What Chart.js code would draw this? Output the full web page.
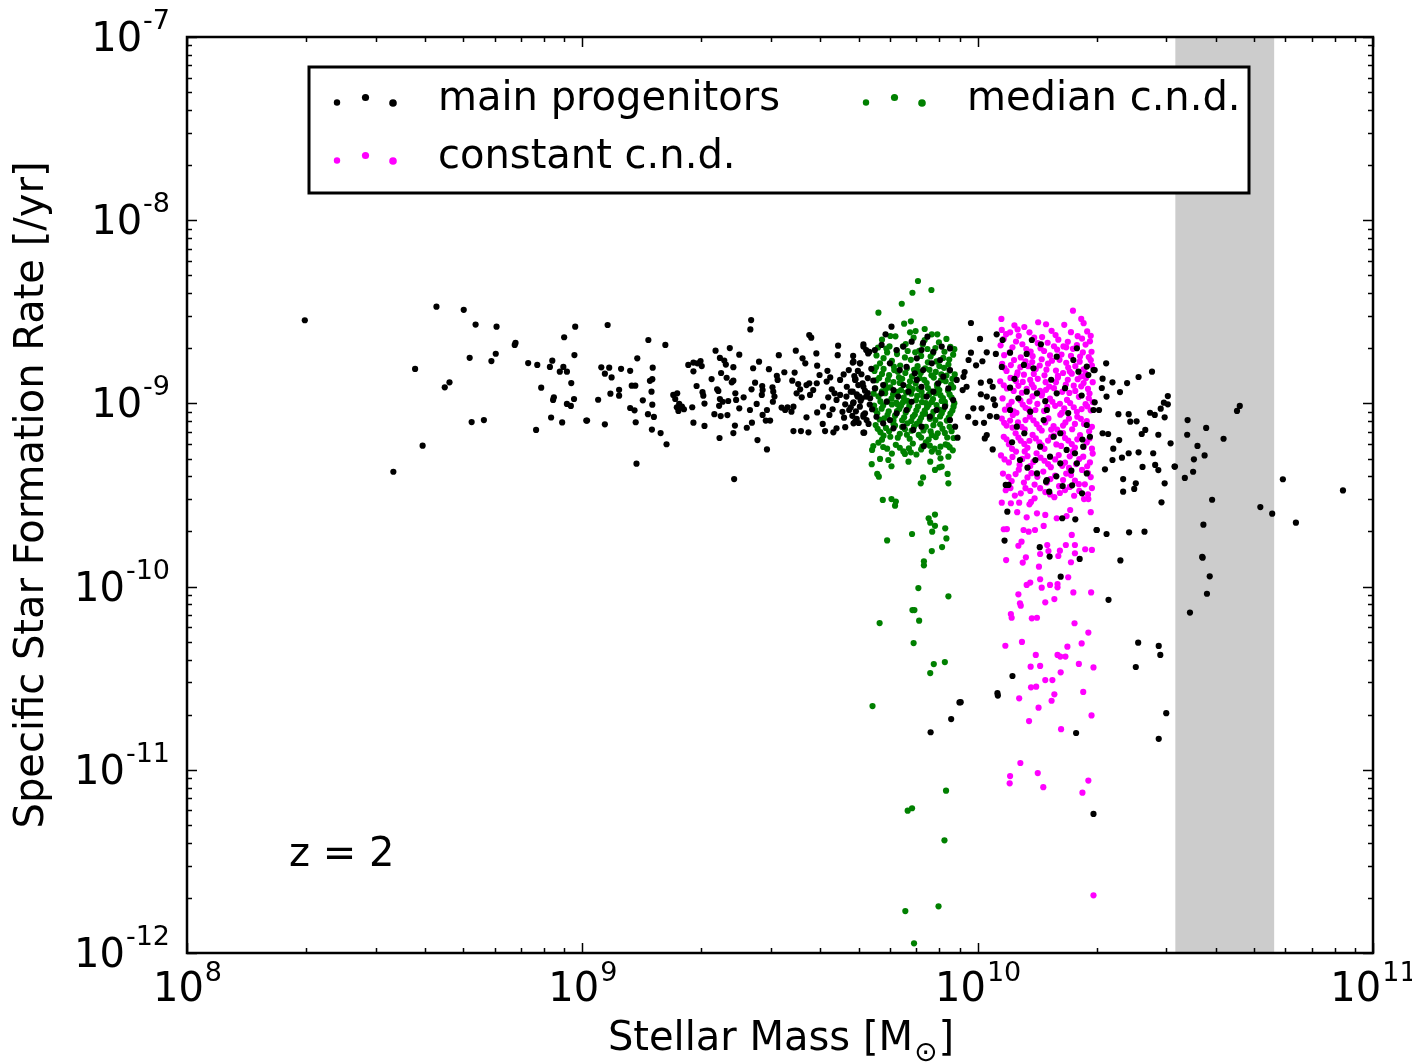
<!DOCTYPE html>
<html>
<head>
<meta charset="utf-8">
<script src="https://cdn.jsdelivr.net/npm/chart.js@4"></script>
<style>
  html, body { margin: 0; padding: 0; background: #fff; }
  canvas { display: block; }
</style>
</head>
<body>
<canvas id="chart" width="1412" height="1064"></canvas>
<script>
// axis decades (log10)
const xTickExps = [8, 9, 10, 11];
const yTickExps = [-12, -11, -10, -9, -8, -7];
// shaded mass range, log10(M)
const bandLogMass = [10.5, 10.75];

const seriesNames = ["main progenitors", "median c.n.d.", "constant c.n.d."];
const seriesColors = ["#000000", "#008000", "#ff00ff"];

// points as [log10 M, log10 sSFR]
const mainLog = [
  [8.298,-8.546],[8.631,-8.472],[8.700,-8.489],[8.730,-8.570],[8.783,-8.581],[8.577,-8.812],[8.652,-8.912],[8.664,-8.885],
  [8.715,-8.751],[8.770,-8.769],[8.781,-8.729],[8.829,-8.681],[8.831,-8.670],[8.863,-8.780],[8.886,-8.790],[8.918,-8.801],
  [8.924,-8.767],[8.954,-8.639],[8.982,-8.581],[8.980,-8.736],[8.943,-8.827],[8.952,-8.801],[8.961,-8.827],[8.972,-8.889],
  [8.896,-8.914],[8.928,-8.967],[8.926,-8.981],[8.979,-8.976],[8.961,-9.003],[8.971,-9.014],[8.720,-9.102],[8.751,-9.091],
  [8.921,-9.077],[8.949,-9.104],[8.883,-9.145],[9.010,-9.094],[8.596,-9.231],[8.522,-9.373],
  [9.064,-8.572],[9.167,-8.654],[9.210,-8.681],[9.427,-8.545],[9.425,-8.596],[9.574,-8.627],[9.579,-8.641],
  [9.048,-8.803],[9.068,-8.805],[9.098,-8.811],[9.121,-8.822],[9.178,-8.805],[9.057,-8.838],[9.074,-8.858],[9.139,-8.754],
  [9.125,-8.903],[9.134,-8.903],[9.171,-8.877],[9.177,-8.868],[9.093,-8.926],[9.093,-8.958],[9.071,-8.947],[9.040,-8.980],
  [9.175,-8.936],[9.153,-8.983],[9.177,-9.007],[9.121,-9.025],[9.132,-9.038],[9.166,-9.059],[9.181,-9.074],[9.012,-9.094],
  [9.057,-9.114],[9.135,-9.103],[9.176,-9.143],[9.198,-9.162],[9.213,-9.223],[9.137,-9.329],
  [9.268,-8.790],[9.281,-8.777],[9.291,-8.781],[9.299,-8.769],[9.302,-8.796],[9.281,-8.825],[9.337,-8.712],[9.373,-8.698],
  [9.397,-8.734],[9.348,-8.752],[9.359,-8.766],[9.363,-8.788],[9.382,-8.802],[9.327,-8.867],[9.351,-8.834],[9.365,-8.860],
  [9.378,-8.885],[9.382,-8.876],[9.289,-8.905],[9.304,-8.939],[9.306,-8.958],[9.230,-8.954],[9.240,-8.945],[9.235,-8.976],
  [9.239,-9.021],[9.245,-9.003],[9.252,-9.018],[9.243,-9.041],[9.257,-9.032],[9.278,-9.021],[9.309,-9.001],[9.341,-8.923],
  [9.344,-8.932],[9.348,-8.976],[9.355,-8.991],[9.369,-8.987],[9.387,-8.945],[9.389,-8.981],[9.397,-9.027],[9.346,-9.013],
  [9.367,-9.064],[9.350,-9.069],[9.334,-9.059],[9.281,-9.105],[9.309,-9.123],[9.386,-9.121],[9.382,-9.162],[9.347,-9.189],
  [9.408,-8.967],[9.428,-8.923],[9.437,-8.887],[9.455,-8.905],[9.441,-9.003],[9.432,-8.808],[9.447,-8.772],[9.472,-8.813],
  [9.497,-8.737],[9.456,-8.927],[9.454,-8.954],[9.481,-8.912],[9.483,-8.936],[9.486,-8.963],[9.482,-8.991],[9.424,-9.036],
  [9.467,-9.036],[9.456,-9.063],[9.464,-9.094],[9.475,-9.094],[9.416,-9.133],[9.429,-9.105],[9.443,-9.200],[9.467,-9.251],
  [9.384,-9.413],
  [9.511,-8.830],[9.492,-8.849],[9.494,-8.872],[9.531,-8.876],[9.537,-8.832],[9.540,-8.712],[9.557,-8.754],[9.564,-8.781],
  [9.592,-8.727],[9.594,-8.794],[9.504,-9.023],[9.513,-9.036],[9.519,-9.021],[9.529,-9.045],[9.534,-9.018],
  [9.546,-8.894],[9.551,-8.923],[9.542,-8.945],[9.555,-8.967],[9.567,-8.900],[9.574,-8.890],[9.584,-8.927],[9.576,-8.954],
  [9.593,-8.890],[9.600,-8.845],[9.620,-8.822],[9.627,-8.858],[9.618,-8.881],[9.631,-8.923],[9.638,-8.945],[9.622,-8.967],
  [9.643,-8.981],[9.652,-8.954],
  [9.647,-8.685],[9.646,-8.737],[9.685,-8.741],[9.711,-8.677],[9.718,-8.709],[9.726,-8.718],[9.684,-8.777],[9.703,-8.781],
  [9.669,-8.909],[9.691,-8.868],[9.709,-8.890],[9.679,-8.936],[9.694,-8.950],[9.715,-8.931],[9.665,-9.005],[9.686,-8.994],
  [9.701,-8.963],[9.718,-8.963],
  [9.534,-9.151],[9.553,-9.151],[9.572,-9.158],[9.608,-9.112],[9.614,-9.151],[9.635,-9.158],[9.643,-9.136],[9.665,-9.130],
  [9.686,-9.109],[9.711,-9.063],[9.713,-9.160],
  [9.567,-9.076],[9.594,-9.049],[9.609,-9.018],[9.633,-9.032],[9.625,-9.063],[9.662,-9.078],[9.675,-9.036],[9.694,-9.085],
  [9.719,-9.091],
  [9.652,-8.872],[9.661,-8.842],[9.674,-8.818],[9.688,-8.851],[9.697,-8.823],[9.706,-8.841],[9.722,-8.862],[9.731,-8.811],
  [9.668,-8.963],[9.679,-9.021],[9.692,-9.043],[9.704,-8.986],[9.727,-9.006],[9.733,-9.032],[9.658,-9.046],[9.683,-9.068],
  [9.699,-9.107],[9.724,-9.112],[9.722,-8.944],[9.736,-8.875],
  [9.782,-8.581],[9.767,-8.623],[9.873,-8.636],[9.862,-8.669],[9.711,-9.160],[9.864,-9.233],[9.949,-9.187],
  [9.686,-8.772],[9.702,-8.781],[9.690,-8.872],[9.698,-8.900],[9.711,-8.909],[9.684,-8.936],[9.696,-8.963],[9.707,-8.972],
  [9.685,-8.999],[9.702,-9.018],[9.715,-9.054],[9.690,-9.100],[9.711,-9.073],[9.728,-8.972],[9.740,-8.918],[9.761,-8.900],
  [9.757,-8.945],[9.770,-8.991],[9.787,-8.927],[9.799,-8.963],[9.812,-8.900],[9.825,-8.936],[9.833,-8.991],[9.820,-9.036],
  [9.795,-9.054],[9.778,-9.091],[9.846,-8.872],[9.858,-8.909],[9.871,-8.963],[9.888,-8.936],[9.900,-8.891],[9.913,-8.854],
  [9.930,-8.818],[9.926,-8.918],[9.938,-8.982],[9.917,-9.018],[9.896,-9.036],[9.879,-9.073],[9.858,-9.127],[9.837,-9.145],
  [9.812,-9.127],[9.787,-9.136],[9.761,-9.109],[9.744,-9.073],[9.930,-9.091],[9.943,-9.127],[9.947,-8.872],[9.711,-8.690],
  [9.723,-8.727],[9.740,-8.709],[9.757,-8.681],[9.795,-8.709],[9.812,-8.690],[9.833,-8.663],[9.858,-8.709],[9.888,-8.718],
  [9.909,-8.690],[9.930,-8.700],[9.905,-8.763],[9.884,-8.781],[9.862,-8.818],[9.841,-8.836],[9.820,-8.800],[9.803,-8.818],
  [9.778,-8.781],[9.846,-8.754],
  [9.933,-10.723],[9.881,-10.795],[9.954,-10.632],
  [9.983,-8.561],[10.006,-8.648],[10.048,-8.623],[10.063,-8.654],
  [9.983,-8.723],[10.023,-8.721],[10.046,-8.730],[9.977,-8.763],[10.012,-8.770],[9.996,-8.792],[9.967,-8.829],[9.964,-8.855],
  [9.972,-8.909],[9.962,-8.927],[10.008,-8.887],[10.031,-8.879],[10.038,-8.909],[10.008,-8.950],[10.023,-8.963],[10.040,-8.978],
  [10.044,-9.009],[9.989,-9.027],[10.010,-9.027],[9.976,-9.073],[10.031,-9.069],[10.048,-9.073],[9.994,-9.106],[10.016,-9.106],
  [10.023,-9.173],[10.018,-9.191],[10.038,-9.251],
  [10.082,-8.723],[10.117,-8.790],[10.137,-8.654],[10.160,-8.677],[10.124,-8.730],[10.200,-8.745],[10.251,-8.699],[10.276,-8.799],
  [10.293,-8.818],[10.242,-8.763],[10.255,-8.827],[10.280,-8.845],[10.082,-8.914],[10.103,-8.972],[10.124,-8.936],[10.150,-8.945],
  [10.175,-9.036],[10.200,-8.945],[10.082,-9.036],[10.099,-9.127],[10.133,-9.045],[10.167,-9.091],[10.192,-9.182],[10.209,-9.163],
  [10.225,-9.254],[10.246,-9.272],[10.267,-9.236],[10.284,-9.182],[10.158,-9.236],[10.183,-9.291],[10.209,-9.327],[10.251,-9.327],
  [10.276,-9.382],[10.150,-9.382],[10.175,-9.418],[10.078,-9.445],[10.107,-9.309],[10.276,-9.118],[10.293,-9.036],
  [10.061,-8.801],[10.093,-8.866],[10.141,-8.808],[10.186,-8.871],[10.221,-8.917],[10.263,-8.957],[10.118,-9.163],[10.146,-9.309],
  [10.237,-9.367],[10.199,-9.398],[10.265,-9.197],[10.087,-9.212],[10.126,-9.351],[10.229,-9.053],[10.171,-8.988],
  [10.071,-9.445],[10.173,-9.427],[10.181,-9.482],[10.215,-9.451],[10.239,-9.447],[10.264,-9.491],[10.075,-9.591],[10.214,-9.627],
  [10.247,-9.633],[10.301,-9.691],[10.068,-9.749],[10.157,-9.785],[10.182,-9.836],[10.258,-9.849],[10.210,-9.946],[10.088,-10.488],
  [10.050,-10.582],[10.051,-10.595],[9.957,-10.631],[10.249,-10.799],[10.293,-11.241],
  [10.325,-8.781],[10.296,-8.818],[10.316,-8.865],[10.341,-8.885],[10.378,-8.889],[10.407,-8.856],[10.441,-8.827],[10.314,-8.916],
  [10.360,-8.938],[10.326,-8.963],[10.481,-8.960],[10.471,-8.996],[10.481,-9.005],[10.463,-9.029],[10.296,-8.994],[10.307,-9.036],
  [10.356,-9.059],[10.382,-9.059],[10.436,-9.051],[10.448,-9.063],[10.473,-9.076],[10.386,-9.100],[10.402,-9.098],[10.316,-9.163],
  [10.330,-9.167],[10.415,-9.167],[10.424,-9.145],[10.457,-9.171],[10.358,-9.200],[10.488,-9.218],[10.343,-9.247],[10.341,-9.309],
  [10.365,-9.296],[10.382,-9.272],[10.407,-9.267],[10.444,-9.272],[10.322,-9.360],[10.417,-9.347],[10.449,-9.336],[10.457,-9.364],
  [10.498,-9.345],[10.368,-9.413],[10.400,-9.436],[10.396,-9.467],[10.368,-9.482],[10.473,-9.436],[10.465,-9.540],[10.301,-9.691],
  [10.326,-9.713],[10.383,-9.704],[10.422,-9.700],
  [10.531,-9.091],[10.578,-9.134],[10.530,-9.171],[10.622,-9.193],[10.556,-9.232],[10.547,-9.305],[10.574,-9.284],[10.499,-9.345],
  [10.545,-9.373],[10.524,-9.407],[10.593,-9.526],[10.571,-9.662],[10.569,-9.842],[10.656,-9.041],[10.663,-9.014],[10.715,-9.566],
  [10.745,-9.602],[10.772,-9.414],[10.805,-9.651],[10.924,-9.475],
  [10.361,-9.857],[10.331,-10.072],[10.406,-10.306],[10.458,-10.324],[10.462,-10.373],[10.400,-10.439],[10.477,-10.691],[10.458,-10.831],
  [10.568,-9.838],[10.587,-9.944],[10.580,-10.039],[10.537,-10.142]
];

const medianLog = [
  [9.849,-8.332],[9.835,-8.396],[9.883,-8.381],[9.808,-8.456],[9.749,-8.505],[9.814,-8.565],[9.831,-8.552],[9.843,-8.605],
  [9.866,-8.594],[9.898,-8.623],[9.779,-8.632],
  [9.758,-8.652],[9.792,-8.634],[9.811,-8.688],[9.838,-8.641],[9.861,-8.679],[9.884,-8.623],[9.902,-8.667],[9.921,-8.648],
  [9.769,-8.701],[9.829,-8.612],[9.873,-8.703],[9.931,-8.692],
  [9.748,-8.695],[9.762,-8.753],[9.777,-8.689],[9.795,-8.712],[9.818,-8.676],[9.842,-8.721],[9.866,-8.654],[9.881,-8.744],
  [9.893,-8.698],[9.916,-8.718],[9.928,-8.761],[9.941,-8.704],
  [9.744,-8.738],[9.753,-8.781],[9.771,-8.722],[9.783,-8.768],[9.796,-8.731],[9.804,-8.793],[9.823,-8.714],[9.831,-8.762],
  [9.848,-8.797],[9.857,-8.741],[9.874,-8.776],[9.887,-8.725],[9.896,-8.771],[9.913,-8.752],[9.926,-8.788],[9.938,-8.734],
  [9.788,-8.799],[9.852,-8.713],[9.903,-8.796],[9.816,-8.749],
  [9.743,-8.803],[9.758,-8.839],[9.773,-8.871],[9.789,-8.818],[9.803,-8.888],[9.817,-8.834],[9.829,-8.879],[9.839,-8.817],
  [9.853,-8.862],[9.867,-8.808],[9.883,-8.847],[9.894,-8.828],[9.907,-8.874],[9.921,-8.848],[9.933,-8.897],[9.942,-8.842],
  [9.739,-8.823],[9.751,-8.861],[9.762,-8.812],[9.776,-8.846],[9.787,-8.884],[9.798,-8.827],[9.809,-8.866],[9.821,-8.808],
  [9.834,-8.853],[9.843,-8.891],[9.856,-8.834],[9.865,-8.872],[9.878,-8.817],[9.889,-8.859],[9.897,-8.898],[9.908,-8.841],
  [9.919,-8.879],[9.929,-8.821],[9.936,-8.866],[9.766,-8.897],[9.801,-8.858],[9.848,-8.824],[9.871,-8.889],[9.915,-8.806],
  [9.744,-8.873],
  [9.737,-8.947],[9.754,-8.989],[9.768,-8.921],[9.782,-8.974],[9.797,-8.937],[9.811,-8.994],[9.819,-8.941],[9.836,-8.922],
  [9.847,-8.959],[9.859,-8.993],[9.874,-8.916],[9.884,-8.992],[9.893,-8.944],[9.903,-8.927],[9.912,-8.971],[9.929,-8.951],
  [9.938,-8.913],
  [9.741,-8.918],[9.749,-8.962],[9.758,-8.934],[9.771,-8.989],[9.779,-8.913],[9.786,-8.951],[9.794,-8.996],[9.806,-8.927],
  [9.813,-8.969],[9.826,-8.908],[9.832,-8.947],[9.844,-8.983],[9.851,-8.921],[9.862,-8.962],[9.869,-8.998],[9.881,-8.934],
  [9.887,-8.976],[9.898,-8.912],[9.906,-8.955],[9.917,-8.991],[9.925,-8.929],[9.934,-8.968],[9.941,-8.999],[9.766,-8.944],
  [9.822,-8.986],[9.877,-8.951],[9.909,-8.987],[9.858,-8.937],
  [9.741,-9.036],[9.752,-9.088],[9.761,-9.011],[9.772,-9.062],[9.787,-9.094],[9.796,-9.042],[9.806,-9.013],[9.814,-9.076],
  [9.823,-9.033],[9.832,-9.096],[9.841,-9.061],[9.849,-9.017],[9.857,-9.079],[9.867,-9.056],[9.876,-9.008],[9.884,-9.068],
  [9.893,-9.091],[9.901,-9.032],[9.909,-9.054],[9.918,-9.011],[9.927,-9.077],[9.936,-9.039],
  [9.738,-9.012],[9.746,-9.054],[9.757,-9.029],[9.764,-9.081],[9.775,-9.043],[9.783,-9.006],[9.791,-9.067],[9.802,-9.031],
  [9.809,-9.092],[9.818,-9.049],[9.827,-9.014],[9.836,-9.073],[9.845,-9.038],[9.853,-9.097],[9.861,-9.058],[9.872,-9.021],
  [9.879,-9.084],[9.888,-9.046],[9.896,-9.009],[9.905,-9.071],[9.913,-9.035],[9.922,-9.094],[9.931,-9.056],[9.939,-9.018],
  [9.797,-9.005],[9.866,-9.039],
  [9.747,-9.139],[9.762,-9.176],[9.776,-9.152],[9.787,-9.112],[9.798,-9.187],[9.809,-9.129],[9.821,-9.171],[9.833,-9.149],
  [9.846,-9.111],[9.857,-9.186],[9.869,-9.128],[9.881,-9.152],[9.894,-9.184],[9.905,-9.114],[9.917,-9.161],[9.929,-9.128],
  [9.939,-9.189],
  [9.742,-9.118],[9.754,-9.157],[9.768,-9.134],[9.779,-9.182],[9.791,-9.121],[9.803,-9.166],[9.816,-9.141],[9.828,-9.193],
  [9.839,-9.127],[9.851,-9.172],[9.863,-9.148],[9.876,-9.197],[9.888,-9.119],[9.899,-9.163],[9.911,-9.138],[9.923,-9.186],
  [9.934,-9.152],[9.758,-9.198],[9.884,-9.173],[9.822,-9.109],
  [9.761,-9.238],[9.803,-9.242],[9.826,-9.246],[9.869,-9.212],[9.891,-9.247],[9.929,-9.239],
  [9.749,-9.214],[9.771,-9.247],[9.793,-9.226],[9.812,-9.262],[9.836,-9.219],[9.857,-9.251],[9.879,-9.231],[9.901,-9.268],
  [9.919,-9.224],[9.937,-9.256],[9.845,-9.279],[9.783,-9.274],
  [9.736,-9.233],[9.733,-9.254],[9.732,-9.332],[9.753,-9.303],[9.774,-9.309],[9.782,-9.343],[9.746,-9.385],[9.750,-9.400],
  [9.816,-9.276],[9.831,-9.267],[9.825,-9.318],[9.860,-9.236],[9.884,-9.263],[9.906,-9.236],[9.924,-9.227],[9.880,-9.318],
  [9.906,-9.300],[9.892,-9.363],[9.903,-9.349],[9.909,-9.345],[9.926,-9.291],[9.924,-9.385],[9.926,-9.436],[9.862,-9.404],
  [9.856,-9.436],[9.760,-9.527],[9.782,-9.522],[9.793,-9.536],[9.791,-9.558],
  [9.876,-9.627],[9.892,-9.607],[9.880,-9.651],[9.892,-9.668],[9.918,-9.682],[9.885,-9.700],[9.834,-9.713],[9.771,-9.748],
  [9.921,-9.737],[9.910,-9.784],[9.884,-9.806],[9.864,-9.862],[9.864,-9.884],[9.850,-10.008],[9.926,-10.053],[9.835,-10.128],
  [9.840,-10.128],[9.852,-10.186],[9.752,-10.199],[9.838,-10.308],[9.889,-10.423],[9.917,-10.412],[9.880,-10.472],[9.734,-10.652],
  [9.920,-11.114],[9.823,-11.223],[9.834,-11.210],[9.916,-11.385],[9.817,-11.771],[9.901,-11.745],[9.839,-11.947]
];

const constantLog = [
  [10.241,-8.494],[10.262,-8.539],[10.060,-8.539],[10.153,-8.557],[10.173,-8.568],[10.061,-8.599],[10.082,-8.612],[10.101,-8.596],
  [10.072,-8.622],[10.118,-8.583],[10.187,-8.604],[10.219,-8.571],[10.253,-8.633],[10.277,-8.607],[10.143,-8.641],[10.093,-8.574],
  [10.204,-8.652],[10.268,-8.562],
  [10.066,-8.648],[10.104,-8.631],[10.131,-8.612],[10.163,-8.638],[10.197,-8.627],[10.236,-8.611],[10.264,-8.646],[10.286,-8.631],
  [10.058,-8.683],[10.081,-8.721],[10.097,-8.662],[10.123,-8.703],[10.139,-8.742],[10.152,-8.671],[10.168,-8.714],[10.193,-8.688],
  [10.212,-8.733],[10.228,-8.664],[10.241,-8.702],[10.259,-8.744],[10.273,-8.679],[10.288,-8.718],[10.109,-8.749],[10.183,-8.738],
  [10.224,-8.694],[10.284,-8.661],
  [10.067,-8.737],[10.088,-8.694],[10.113,-8.677],[10.134,-8.717],[10.159,-8.699],[10.177,-8.669],[10.201,-8.707],[10.217,-8.689],
  [10.236,-8.741],[10.251,-8.682],[10.266,-8.722],[10.281,-8.747],
  [10.062,-8.784],[10.073,-8.823],[10.092,-8.763],[10.108,-8.802],[10.117,-8.843],[10.138,-8.774],[10.147,-8.812],[10.169,-8.847],
  [10.178,-8.783],[10.198,-8.821],[10.207,-8.762],[10.229,-8.804],[10.238,-8.838],[10.258,-8.772],[10.268,-8.814],[10.289,-8.793],
  [10.101,-8.831],[10.162,-8.759],[10.203,-8.849],[10.233,-8.826],[10.262,-8.852],[10.128,-8.797],
  [10.068,-8.807],[10.084,-8.791],[10.099,-8.847],[10.121,-8.771],[10.142,-8.839],[10.157,-8.793],[10.174,-8.816],[10.188,-8.767],
  [10.216,-8.834],[10.224,-8.778],[10.247,-8.797],[10.273,-8.838],[10.286,-8.764],
  [10.057,-8.879],[10.074,-8.918],[10.083,-8.861],[10.103,-8.904],[10.112,-8.942],[10.133,-8.872],[10.142,-8.913],[10.163,-8.948],
  [10.172,-8.884],[10.193,-8.917],[10.203,-8.858],[10.223,-8.897],[10.232,-8.943],[10.253,-8.868],[10.262,-8.907],[10.283,-8.946],
  [10.291,-8.884],[10.114,-8.883],[10.173,-8.926],[10.243,-8.903],[10.152,-8.866],[10.274,-8.862],
  [10.066,-8.901],[10.091,-8.932],[10.097,-8.878],[10.124,-8.921],[10.137,-8.896],[10.158,-8.931],[10.181,-8.908],[10.198,-8.884],
  [10.214,-8.937],[10.228,-8.871],[10.247,-8.932],[10.268,-8.889],[10.279,-8.921],
  [10.063,-8.973],[10.079,-9.012],[10.091,-9.043],[10.108,-8.983],[10.121,-9.024],[10.139,-8.962],[10.151,-9.003],[10.168,-9.041],
  [10.183,-8.974],[10.196,-9.013],[10.213,-9.052],[10.226,-8.981],[10.243,-9.021],[10.256,-8.964],[10.273,-9.004],[10.286,-9.038],
  [10.098,-9.051],[10.162,-8.957],[10.208,-9.002],[10.251,-9.046],[10.129,-9.033],[10.281,-8.972],
  [10.069,-9.034],[10.086,-8.991],[10.114,-9.006],[10.131,-8.989],[10.146,-9.036],[10.176,-9.019],[10.189,-8.991],[10.219,-9.027],
  [10.234,-8.998],[10.263,-9.031],[10.277,-9.016],[10.291,-8.993],
  [10.061,-9.083],[10.073,-9.121],[10.089,-9.063],[10.102,-9.103],[10.119,-9.142],[10.132,-9.072],[10.149,-9.113],[10.162,-9.148],
  [10.179,-9.082],[10.192,-9.124],[10.209,-9.062],[10.222,-9.104],[10.239,-9.141],[10.252,-9.073],[10.269,-9.112],[10.282,-9.152],
  [10.121,-9.091],[10.201,-9.143],[10.261,-9.084],[10.088,-9.132],
  [10.067,-9.106],[10.082,-9.094],[10.111,-9.128],[10.141,-9.092],[10.156,-9.134],[10.171,-9.104],[10.186,-9.143],[10.216,-9.121],
  [10.231,-9.083],[10.246,-9.112],[10.276,-9.097],[10.289,-9.128],
  [10.066,-9.182],[10.079,-9.223],[10.096,-9.163],[10.109,-9.204],[10.126,-9.242],[10.139,-9.172],[10.156,-9.212],[10.169,-9.248],
  [10.186,-9.183],[10.199,-9.224],[10.216,-9.162],[10.229,-9.203],[10.246,-9.241],[10.259,-9.173],[10.276,-9.213],[10.289,-9.247],
  [10.131,-9.204],[10.211,-9.232],
  [10.073,-9.196],[10.087,-9.248],[10.103,-9.186],[10.118,-9.221],[10.147,-9.191],[10.162,-9.229],[10.178,-9.203],[10.193,-9.176],
  [10.221,-9.189],[10.238,-9.222],[10.252,-9.196],[10.268,-9.238],[10.283,-9.191],
  [10.059,-9.284],[10.079,-9.322],[10.097,-9.263],[10.113,-9.303],[10.133,-9.342],[10.149,-9.272],[10.169,-9.313],[10.185,-9.348],
  [10.205,-9.282],[10.221,-9.323],[10.241,-9.262],[10.257,-9.304],[10.277,-9.343],[10.291,-9.274],[10.119,-9.262],[10.231,-9.352],
  [10.068,-9.306],[10.088,-9.292],[10.106,-9.336],[10.126,-9.288],[10.141,-9.319],[10.159,-9.296],[10.178,-9.331],[10.196,-9.306],
  [10.214,-9.341],[10.233,-9.289],[10.249,-9.331],[10.267,-9.291],[10.284,-9.322],
  [10.064,-9.383],[10.086,-9.424],[10.104,-9.362],[10.126,-9.404],[10.144,-9.443],[10.166,-9.372],[10.184,-9.413],[10.206,-9.452],
  [10.224,-9.383],[10.246,-9.422],[10.264,-9.363],[10.286,-9.402],[10.151,-9.401],[10.271,-9.442],
  [10.078,-9.401],[10.096,-9.386],[10.117,-9.432],[10.136,-9.381],[10.175,-9.432],[10.196,-9.394],[10.216,-9.418],[10.236,-9.391],
  [10.256,-9.441],[10.279,-9.381],
  [10.071,-9.474],[10.094,-9.503],[10.121,-9.463],[10.144,-9.518],[10.171,-9.484],[10.194,-9.512],[10.221,-9.473],[10.244,-9.504],
  [10.269,-9.522],[10.289,-9.462],
  [10.083,-9.462],[10.109,-9.491],[10.133,-9.478],[10.158,-9.463],[10.183,-9.497],[10.208,-9.489],[10.233,-9.456],[10.257,-9.478],
  [10.279,-9.497],
  [10.061,-9.542],[10.084,-9.545],[10.105,-9.542],[10.131,-9.551],[10.135,-9.538],[10.100,-9.594],[10.124,-9.622],[10.150,-9.600],
  [10.171,-9.609],[10.200,-9.627],[10.225,-9.615],[10.234,-9.582],[10.280,-9.522],[10.286,-9.594],[10.066,-9.687],[10.074,-9.686],
  [10.116,-9.691],[10.129,-9.700],[10.145,-9.691],[10.167,-9.669],[10.103,-9.777],[10.111,-9.755],[10.158,-9.822],[10.176,-9.773],
  [10.179,-9.806],[10.208,-9.804],[10.223,-9.773],[10.238,-9.718],[10.246,-9.773],[10.246,-9.818],[10.272,-9.796],[10.289,-9.800],
  [10.072,-9.855],[10.114,-9.869],[10.122,-9.840],[10.155,-9.891],[10.204,-9.833],[10.236,-9.867],[10.124,-9.991],[10.133,-9.978],
  [10.158,-9.960],[10.162,-10.006],[10.183,-9.991],[10.202,-9.986],[10.202,-10.004],[10.229,-9.949],[10.194,-10.068],[10.171,-10.086],
  [10.242,-10.032],[10.287,-10.032],[10.103,-10.042],[10.107,-10.091],[10.109,-10.104],[10.084,-10.150],[10.086,-10.170],[10.137,-10.173],
  [10.150,-10.170],[10.245,-10.200],[10.280,-10.251],[10.263,-10.310],[10.070,-10.323],[10.112,-10.302],[10.147,-10.373],[10.202,-10.373],
  [10.209,-10.382],[10.222,-10.382],[10.227,-10.328],[10.256,-10.422],[10.293,-10.441],[10.134,-10.437],[10.158,-10.433],[10.210,-10.468],
  [10.135,-10.550],[10.148,-10.546],[10.171,-10.510],[10.189,-10.510],[10.194,-10.588],[10.187,-10.623],[10.267,-10.575],[10.105,-10.610],
  [10.154,-10.661],[10.130,-10.734],[10.211,-10.778],[10.288,-10.703],[10.108,-10.963],[10.082,-11.034],[10.081,-11.074],[10.152,-11.018],
  [10.166,-11.095],[10.280,-11.059],[10.265,-11.125],[10.293,-11.685]
];

const FONT = "'DejaVu Sans', sans-serif";

function toPoints(arr) {
  return arr.map(([m, s]) => ({ x: Math.pow(10, m), y: Math.pow(10, s) }));
}

// gray band + frame, ticks, labels, legend
const decor = {
  id: "decor",
  beforeDatasetsDraw(chart) {
    const { ctx, chartArea: a, scales } = chart;
    const x0 = scales.x.getPixelForValue(Math.pow(10, bandLogMass[0]));
    const x1 = scales.x.getPixelForValue(Math.pow(10, bandLogMass[1]));
    ctx.save();
    ctx.fillStyle = "#cccccc";
    ctx.fillRect(x0, a.top, x1 - x0, a.height);
    ctx.restore();
  },
  afterDraw(chart) {
    const { ctx, chartArea: a, scales } = chart;
    const xs = scales.x, ys = scales.y;
    ctx.save();

    // frame
    ctx.strokeStyle = "#000";
    ctx.lineWidth = 2.5;
    ctx.strokeRect(a.left, a.top, a.right - a.left, a.bottom - a.top);

    // ticks (inward, all sides)
    ctx.lineWidth = 1.5;
    ctx.beginPath();
    xTickExps.forEach((e, i) => {
      for (let k = 1; k <= 9; k++) {
        if (k > 1 && i === xTickExps.length - 1) break;
        const px = Math.round(xs.getPixelForValue(k * Math.pow(10, e))) + 0.5;
        const len = k === 1 ? 10 : 5;
        ctx.moveTo(px, a.bottom); ctx.lineTo(px, a.bottom - len);
        ctx.moveTo(px, a.top); ctx.lineTo(px, a.top + len);
      }
    });
    yTickExps.forEach((e, i) => {
      for (let k = 1; k <= 9; k++) {
        if (k > 1 && i === yTickExps.length - 1) break;
        const py = Math.round(ys.getPixelForValue(k * Math.pow(10, e))) + 0.5;
        const len = k === 1 ? 10 : 5;
        ctx.moveTo(a.left, py); ctx.lineTo(a.left + len, py);
        ctx.moveTo(a.right, py); ctx.lineTo(a.right - len, py);
      }
    });
    ctx.stroke();

    ctx.fillStyle = "#000";
    const bigFont = "40px " + FONT;
    const supFont = "27px " + FONT;

    // x tick labels
    xTickExps.forEach((e) => {
      const px = xs.getPixelForValue(Math.pow(10, e));
      ctx.font = bigFont;
      const wBase = ctx.measureText("10").width;
      ctx.font = supFont;
      const sup = String(e);
      const wSup = ctx.measureText(sup).width;
      const left = px - (wBase + wSup) / 2;
      ctx.textAlign = "left";
      ctx.textBaseline = "alphabetic";
      ctx.font = bigFont;
      ctx.fillText("10", left, a.bottom + 48);
      ctx.font = supFont;
      ctx.fillText(sup, left + wBase + 1, a.bottom + 28);
    });

    // y tick labels
    yTickExps.forEach((e) => {
      const py = ys.getPixelForValue(Math.pow(10, e));
      const sup = "-" + String(-e);
      ctx.font = supFont;
      const wSup = ctx.measureText(sup).width;
      const right = a.left - 17;
      ctx.textAlign = "left";
      ctx.textBaseline = "alphabetic";
      ctx.fillText(sup, right - wSup, py - 8);
      ctx.font = bigFont;
      ctx.textAlign = "right";
      ctx.fillText("10", right - wSup - 1, py + 14);
    });

    // x axis title: Stellar Mass [M_sun]
    const t1 = "Stellar Mass [M", tSub = "\u2299", t2 = "]";
    ctx.font = bigFont;
    const w1 = ctx.measureText(t1).width, w2 = ctx.measureText(t2).width;
    ctx.font = "28px " + FONT;
    const wS = ctx.measureText(tSub).width;
    let tx = (a.left + a.right) / 2 - (w1 + wS + w2) / 2;
    ctx.textAlign = "left";
    ctx.textBaseline = "alphabetic";
    ctx.font = bigFont;
    ctx.fillText(t1, tx, 1050);
    ctx.font = "28px " + FONT;
    ctx.fillText(tSub, tx + w1 + 1, 1061);
    ctx.font = bigFont;
    ctx.fillText(t2, tx + w1 + wS + 2, 1050);

    // y axis title
    ctx.save();
    ctx.translate(33, (a.top + a.bottom) / 2);
    ctx.rotate(-Math.PI / 2);
    ctx.textAlign = "center";
    ctx.textBaseline = "middle";
    ctx.font = bigFont;
    ctx.fillText("Specific Star Formation Rate [/yr]", 0, 0);
    ctx.restore();

    // redshift label
    ctx.font = bigFont;
    ctx.textAlign = "left";
    ctx.textBaseline = "alphabetic";
    ctx.fillText("z = 2", 289, 866);

    // legend box
    ctx.fillStyle = "#fff";
    ctx.fillRect(309, 67, 940, 126);
    ctx.strokeStyle = "#000";
    ctx.lineWidth = 3;
    ctx.strokeRect(309, 67, 940, 126);
    const entries = [
      { name: seriesNames[0], color: seriesColors[0], x: 337, y: 100 },
      { name: seriesNames[2], color: seriesColors[2], x: 337, y: 158 },
      { name: seriesNames[1], color: seriesColors[1], x: 866, y: 100 }
    ];
    const offs = [[0, 2.5, 3.2], [28.5, -2.5, 3.6], [56, 3, 3.8]];
    entries.forEach((en) => {
      ctx.fillStyle = en.color;
      offs.forEach(([dx, dy, r]) => {
        ctx.beginPath();
        ctx.arc(en.x + dx, en.y + dy, r, 0, Math.PI * 2);
        ctx.fill();
      });
      ctx.fillStyle = "#000";
      ctx.font = bigFont;
      ctx.textBaseline = "middle";
      ctx.fillText(en.name, en.x + 101, en.y);
    });

    ctx.restore();
  }
};

const pointStyle = (color) => ({
  backgroundColor: color,
  borderWidth: 0,
  pointRadius: 3.1,
  pointHoverRadius: 3.1
});

new Chart(document.getElementById("chart"), {
  type: "scatter",
  data: {
    datasets: [
      { label: seriesNames[0], data: toPoints(mainLog), ...pointStyle(seriesColors[0]) },
      { label: seriesNames[2], data: toPoints(constantLog), ...pointStyle(seriesColors[2]) },
      { label: seriesNames[1], data: toPoints(medianLog), ...pointStyle(seriesColors[1]) }
    ]
  },
  options: {
    responsive: false,
    animation: false,
    devicePixelRatio: 1,
    events: [],
    layout: { padding: { top: 37, right: 39, left: 0, bottom: 0 } },
    plugins: { legend: { display: false }, tooltip: { enabled: false } },
    scales: {
      x: {
        type: "logarithmic",
        min: Math.pow(10, xTickExps[0]),
        max: Math.pow(10, xTickExps[xTickExps.length - 1]),
        ticks: { display: false },
        grid: { display: false },
        border: { display: false },
        afterFit: (s) => { s.height = 111; }
      },
      y: {
        type: "logarithmic",
        min: Math.pow(10, yTickExps[0]),
        max: Math.pow(10, yTickExps[yTickExps.length - 1]),
        ticks: { display: false },
        grid: { display: false },
        border: { display: false },
        afterFit: (s) => { s.width = 187; }
      }
    }
  },
  plugins: [decor]
});
</script>
</body>
</html>
